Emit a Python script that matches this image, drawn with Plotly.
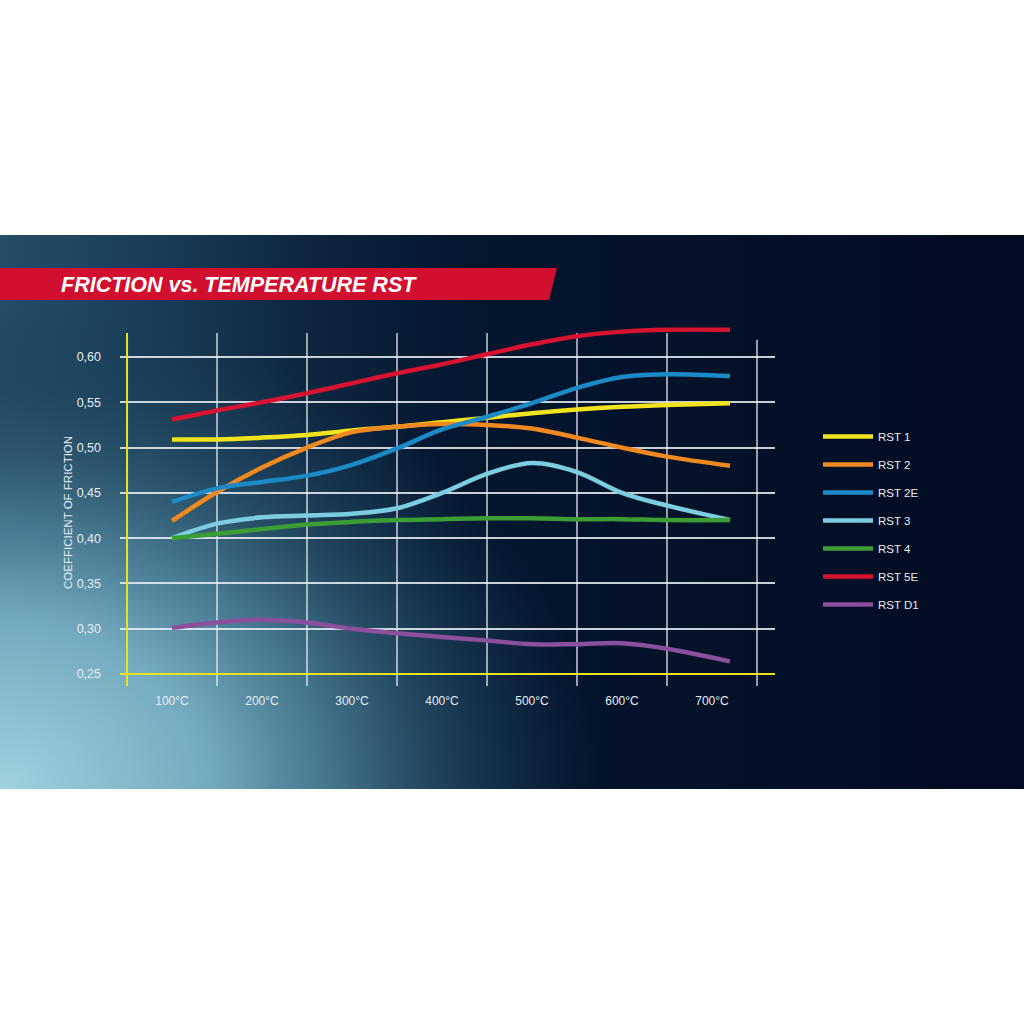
import base64
import plotly.graph_objs as go

# temperature points (deg C)
temps = [100, 150, 200, 250, 300, 350, 400, 450, 500, 550, 600, 650, 720]

rst_1 = [0.509, 0.509, 0.511, 0.514, 0.519, 0.523, 0.528, 0.533, 0.538, 0.542, 0.545, 0.547, 0.549]
rst_2 = [0.419, 0.451, 0.478, 0.500, 0.517, 0.523, 0.526, 0.525, 0.521, 0.511, 0.500, 0.490, 0.480]
rst_2e = [0.440, 0.455, 0.462, 0.469, 0.481, 0.499, 0.520, 0.534, 0.549, 0.566, 0.578, 0.581, 0.579]
rst_3 = [0.400, 0.416, 0.423, 0.425, 0.427, 0.433, 0.450, 0.471, 0.483, 0.473, 0.450, 0.436, 0.420]
rst_4 = [0.400, 0.405, 0.410, 0.415, 0.418, 0.420, 0.421, 0.422, 0.422, 0.421, 0.421, 0.420, 0.420]
rst_5e = [0.531, 0.541, 0.550, 0.560, 0.571, 0.582, 0.592, 0.603, 0.614, 0.623, 0.628, 0.630, 0.630]
rst_d1 = [0.301, 0.307, 0.310, 0.307, 0.300, 0.295, 0.291, 0.287, 0.283, 0.283, 0.284, 0.278, 0.264]

names = ['RST 1', 'RST 2', 'RST 2E', 'RST 3', 'RST 4', 'RST 5E', 'RST D1']
series = [rst_1, rst_2, rst_2e, rst_3, rst_4, rst_5e, rst_d1]
colors = ['#f2e41c', '#f0891f', '#1b8ac6', '#7dcde0', '#3c9d35', '#d7132f', '#8b4f9c']

x_ticks = [100, 200, 300, 400, 500, 600, 700]
x_labels = ['100°C', '200°C', '300°C', '400°C', '500°C', '600°C', '700°C']
y_ticks = [0.25, 0.30, 0.35, 0.40, 0.45, 0.50, 0.55, 0.60]
y_labels = ['0,25', '0,30', '0,35', '0,40', '0,45', '0,50', '0,55', '0,60']

# plot area in pixels (top raised so the RST 5E curve is not clipped)
L, R, T, B = 120, 775, 321, 686
W, H = R - L, B - T
Y_TOP = 0.60 + 36 / 906.0   # value at pixel 321
GRID_TOP = 0.6265           # vertical grid lines stop here (pixel ~333)


def px(x):  # pixel x -> paper
    return (x - L) / W


def py(y):  # pixel y -> paper
    return (B - y) / H


# background panel: dark horizontal gradient + light glow in the bottom-left corner
svg = '''<svg xmlns="http://www.w3.org/2000/svg" width="1024" height="554" viewBox="0 0 1024 554" preserveAspectRatio="none">
<defs>
<linearGradient id="base" gradientUnits="userSpaceOnUse" x1="0" y1="0" x2="1024" y2="0">
<stop offset="0" stop-color="#244d67"/>
<stop offset="0.15" stop-color="#1a3d57"/>
<stop offset="0.3" stop-color="#0e2640"/>
<stop offset="0.45" stop-color="#05162f"/>
<stop offset="1" stop-color="#020c22"/>
</linearGradient>
<radialGradient id="glow" gradientUnits="userSpaceOnUse" cx="0" cy="554" r="600"
 gradientTransform="translate(0 554) scale(1 0.8) translate(0 -554)">
<stop offset="0" stop-color="#a0d2de" stop-opacity="1"/>
<stop offset="0.35" stop-color="#74aabf" stop-opacity="1"/>
<stop offset="0.55" stop-color="#4a7e96" stop-opacity="0.9"/>
<stop offset="0.7" stop-color="#2f5a72" stop-opacity="0.75"/>
<stop offset="0.85" stop-color="#1f4560" stop-opacity="0.45"/>
<stop offset="1" stop-color="#1a3a55" stop-opacity="0"/>
</radialGradient>
</defs>
<rect width="1024" height="554" fill="url(#base)"/>
<rect width="1024" height="554" fill="url(#glow)"/></svg>'''
bg_src = 'data:image/svg+xml;base64,' + base64.b64encode(svg.encode()).decode()

fig = go.Figure()

for name, vals, col in zip(names, series, colors):
    fig.add_trace(go.Scatter(
        x=temps, y=vals, name=name, legendgroup=name,
        mode='lines', line=dict(color=col, width=4.5, shape='spline', smoothing=1.0)))

txt = '#e8edf1'
grid = 'rgba(235,240,245,0.85)'

shapes = [
    # red title band
    dict(type='path', xref='paper', yref='paper', line=dict(width=0), fillcolor='#d1102f',
         path='M %f %f L %f %f L %f %f L %f %f Z' % (px(0), py(268), px(557), py(268),
                                                    px(549), py(300), px(0), py(300))),
]
# vertical grid lines sit between the temperature labels
for gx in range(50, 751, 100):
    shapes.append(dict(type='line', xref='x', yref='y', x0=gx, x1=gx, y0=0.2368,
                       y1=GRID_TOP if gx < 750 else 0.619, layer='below',
                       line=dict(color=grid, width=1.5)))
# yellow axes
shapes.append(dict(type='line', xref='x', yref='y', x0=50, x1=50, y0=0.2368, y1=GRID_TOP,
                   layer='above', line=dict(color='#e9e21f', width=2)))
shapes.append(dict(type='line', xref='x domain', yref='y', x0=0, x1=1, y0=0.25, y1=0.25,
                   layer='above', line=dict(color='#e9e21f', width=2)))

fig.update_layout(
    width=1024, height=1024,
    margin=dict(l=L, r=1024 - R, t=T, b=1024 - B),
    paper_bgcolor='white', plot_bgcolor='rgba(0,0,0,0)',
    font=dict(family='Liberation Sans, Arial, sans-serif', color=txt, size=11),
    showlegend=True,
    legend=dict(x=px(818), y=py(422), xanchor='left', yanchor='top',
                bgcolor='rgba(0,0,0,0)', font=dict(size=11.5, color=txt),
                tracegroupgap=9, itemwidth=50),
    xaxis=dict(range=[42.2, 770], tickvals=x_ticks, ticktext=x_labels,
               showgrid=False, zeroline=False, showline=False, ticks='',
               ticklabelstandoff=6, tickfont=dict(size=12, color=txt)),
    yaxis=dict(range=[0.2368, Y_TOP], tickvals=y_ticks, ticktext=y_labels,
               showgrid=True, gridcolor=grid, gridwidth=1.5, zeroline=False,
               showline=False, ticks='', ticklabelstandoff=18,
               tickfont=dict(size=12.5, color=txt)),
    images=[dict(source=bg_src, xref='paper', yref='paper', x=px(0), y=py(235),
                 sizex=1024 / W, sizey=554 / H, xanchor='left', yanchor='top',
                 sizing='stretch', layer='below')],
    shapes=shapes,
    annotations=[
        dict(text='<b><i>FRICTION vs. TEMPERATURE RST</i></b>', xref='paper', yref='paper',
             x=px(59), y=py(285), xanchor='left', yanchor='middle', showarrow=False,
             font=dict(size=21.5, color='white')),
        dict(text='COEFFICIENT OF FRICTION', xref='paper', yref='paper', x=px(68), y=py(513),
             xanchor='center', yanchor='middle', textangle=-90, showarrow=False,
             font=dict(size=11.5, color=txt)),
    ],
)

# the page body has a default 8px margin; remove it so the panel spans the window
fig.write_html("out.html", config={'displayModeBar': False},
               post_script="document.body.style.margin='0';")
